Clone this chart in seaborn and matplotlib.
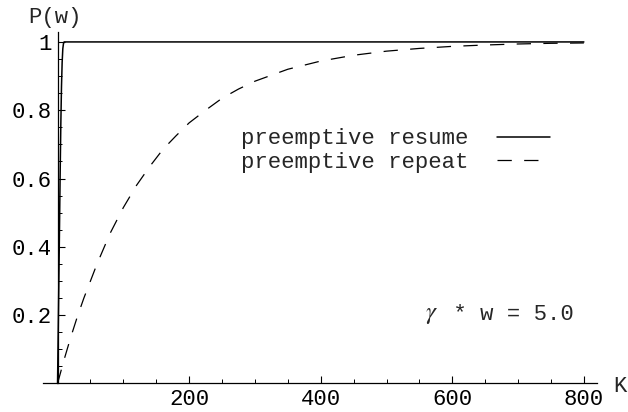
import matplotlib
matplotlib.use("Agg")
import matplotlib.pyplot as plt
import matplotlib.ticker as mticker
import seaborn as sns
import pandas as pd

# ---- data ----
k_resume = [0, 1, 2, 3, 4, 5, 6, 7, 8, 9, 10, 12, 20, 100, 400, 800]
p_resume = [0.0, 0.15, 0.30, 0.46, 0.62, 0.76, 0.87, 0.94, 0.98, 0.995, 1.0, 1.0, 1.0, 1.0, 1.0, 1.0]

k_repeat = [0, 10, 20, 30, 40, 50, 60, 80, 100, 120, 140, 160, 180, 200, 225, 250,
            275, 300, 350, 400, 450, 500, 550, 600, 650, 700, 750, 800]
p_repeat = [0.0, 0.07, 0.135, 0.195, 0.25, 0.30, 0.35, 0.44, 0.515, 0.58, 0.635, 0.685,
            0.725, 0.763, 0.80, 0.835, 0.862, 0.885, 0.92, 0.944, 0.961, 0.973, 0.981,
            0.987, 0.991, 0.994, 0.996, 0.997]

series_labels = ["preemptive resume", "preemptive repeat"]
x_ticks = [200, 400, 600, 800]
y_ticks = [0.2, 0.4, 0.6, 0.8, 1.0]
y_tick_labels = ["0.2", "0.4", "0.6", "0.8", "1"]
annotation_symbol = r"$\gamma$"
annotation_rest = " * w = 5.0"

sns.set_theme(style="ticks")
plt.rcParams["font.family"] = ["Liberation Mono", "DejaVu Sans"]
plt.rcParams["mathtext.fontset"] = "stix"
plt.rcParams["lines.scale_dashes"] = False

df_res = pd.DataFrame({"K": k_resume, "P": p_resume})
df_rep = pd.DataFrame({"K": k_repeat, "P": p_repeat})

fig = plt.figure(figsize=(6.28, 4.12), dpi=100)
ax = fig.add_axes([0.0690, 0.0692, 0.8817, 0.8539])
ax.set_facecolor("white")

sns.lineplot(data=df_res, x="K", y="P", ax=ax, color="black", lw=1.1,
             label=series_labels[0], clip_on=False)
sns.lineplot(data=df_rep, x="K", y="P", ax=ax, color="black", lw=0.9,
             label=series_labels[1], clip_on=False)
ax.lines[1].set_dashes((10.3, 8.9))

ax.set_xlim(-21.6, 820)
ax.set_ylim(0, 1.03)

for s in ["top", "right"]:
    ax.spines[s].set_visible(False)
ax.spines["left"].set_position(("data", 0))
ax.spines["bottom"].set_position(("data", 0))
for s in ["left", "bottom"]:
    ax.spines[s].set_linewidth(0.9)
    ax.spines[s].set_color("black")

ax.set_xticks(x_ticks)
ax.set_xticklabels([str(v) for v in x_ticks])
ax.set_yticks(y_ticks)
ax.set_yticklabels(y_tick_labels)
ax.xaxis.set_minor_locator(mticker.MultipleLocator(50))
ax.yaxis.set_minor_locator(mticker.MultipleLocator(0.05))
ax.tick_params(which="major", direction="in", length=4.8, width=0.8, color="black",
               labelsize=16, labelcolor="black", pad=4)
ax.tick_params(which="minor", direction="in", length=2.9, width=0.7, color="black")
ax.set_xlabel("")
ax.set_ylabel("")

leg = ax.legend(loc="center left", bbox_to_anchor=(240.7 / 628, (412 - 150.5) / 412),
                bbox_transform=fig.transFigure, frameon=False, markerfirst=False,
                fontsize=16, borderpad=0, borderaxespad=0, handlelength=2.4,
                handletextpad=1.3, labelspacing=0.1)

fig.text(55 / 628, (412 - 17.5) / 412, "P(w)", fontsize=16, ha="center", va="center")
fig.text(613 / 628, (412 - 386) / 412, "K", fontsize=16, ha="left", va="center")
fig.text(425 / 628, (412 - 314) / 412, annotation_symbol, fontsize=18, ha="left",
         va="center", style="italic")
fig.text(440 / 628, (412 - 314) / 412, annotation_rest, fontsize=16, ha="left",
         va="center")

fig.savefig("out.png", dpi=100, facecolor="white")
